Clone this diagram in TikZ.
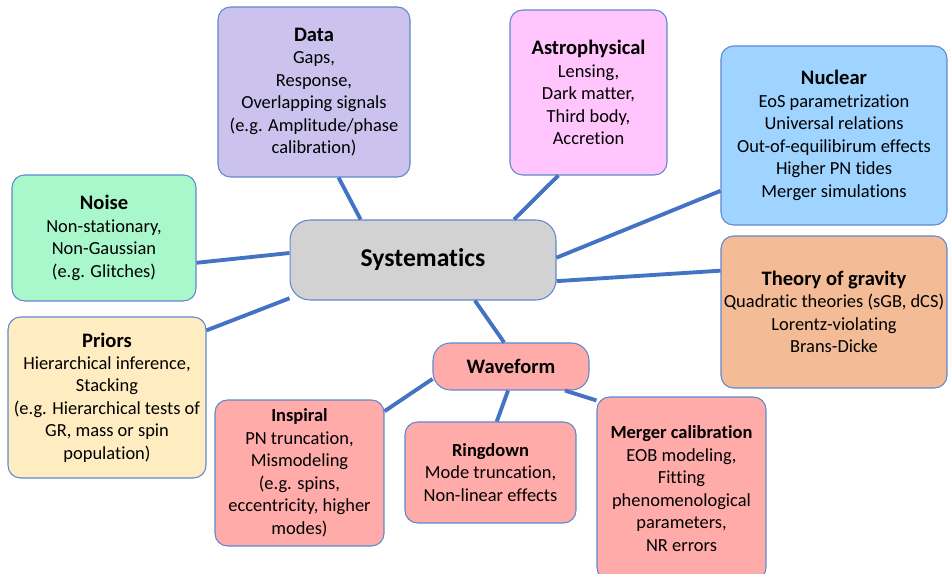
\documentclass[tikz,border=0pt]{standalone}
\usepackage{fontspec}
\setmainfont{Carlito}[Ligatures=NoCommon]
\usetikzlibrary{shapes}

\definecolor{linkblue}{HTML}{4472C4}
\definecolor{datafill}{HTML}{CBC3EE}
\definecolor{astrofill}{HTML}{FFC5FC}
\definecolor{nuclearfill}{HTML}{9ED4FF}
\definecolor{noisefill}{HTML}{A9F8CC}
\definecolor{sysfill}{HTML}{D2D2D2}
\definecolor{gravfill}{HTML}{F3BC97}
\definecolor{priorfill}{HTML}{FFEDC1}
\definecolor{wavefill}{HTML}{FFABA9}

\newcommand{\ttl}[1]{{\fontsize{11.7}{14.5}\selectfont\bfseries #1}}
\newcommand{\subttl}[1]{{\fontsize{10.5}{13}\selectfont\bfseries #1}}

\tikzset{
  topic/.style={rectangle, rounded corners=0.25cm, draw=linkblue!85, line width=0.6pt,
    align=center, inner sep=0pt, font=\fontsize{10.5}{12.8}\selectfont},
  link/.style={draw=linkblue, line width=2.2pt},
}

\begin{document}
\begin{tikzpicture}[x=0.02cm, y=-0.02cm]
  \useasboundingbox (0,0) rectangle (948,574);

  % centre box
  \node[topic, fill=sysfill, rounded corners=0.4cm, minimum width=5.32cm, minimum height=1.6cm] (sys) at (423,260)
    {\fontsize{14.6}{17}\selectfont\bfseries Systematics};

  \node[topic, fill=datafill, minimum width=3.84cm, minimum height=3.4cm] (data) at (314,92)
    {\ttl{Data}\\Gaps,\\Response,\\Overlapping signals\\(e.g. Amplitude/phase\\calibration)};
  \node[topic, fill=astrofill, minimum width=3.14cm, minimum height=3.3cm] (astro) at (588.5,92.5)
    {\ttl{Astrophysical}\\Lensing,\\Dark matter,\\Third body,\\Accretion};
  \node[topic, fill=nuclearfill, minimum width=4.52cm, minimum height=3.58cm] (nuclear) at (834,135.5)
    {\ttl{Nuclear}\\EoS parametrization\\Universal relations\\Out-of-equilibirum effects\\Higher PN tides\\Merger simulations};
  \node[topic, fill=gravfill, minimum width=4.52cm, minimum height=3.04cm] (gravity) at (834,312)
    {\ttl{Theory of gravity}\\Quadratic theories (sGB, dCS)\\Lorentz-violating\\Brans-Dicke};
  \node[topic, fill=noisefill, minimum width=3.68cm, minimum height=2.52cm] (noise) at (104,238)
    {\ttl{Noise}\\Non-stationary,\\Non-Gaussian\\(e.g. Glitches)};
  \node[topic, fill=priorfill, minimum width=3.96cm, minimum height=3.22cm] (priors) at (107,397.5)
    {\ttl{Priors}\\Hierarchical inference,\\Stacking\\(e.g. Hierarchical tests of\\GR, mass or spin\\population)};

  % waveform branch
  \node[topic, fill=wavefill, rounded corners=0.35cm, minimum width=3.12cm, minimum height=0.94cm] (wave) at (511,366.5)
    {\ttl{Waveform}};
  \node[topic, fill=wavefill, minimum width=3.38cm, minimum height=2.92cm] (inspiral) at (299.5,473)
    {\subttl{Inspiral}\\PN truncation,\\Mismodeling\\(e.g. spins,\\eccentricity, higher\\modes)};
  \node[topic, fill=wavefill, minimum width=3.42cm, minimum height=2.02cm] (ringdown) at (490.5,472.5)
    {\subttl{Ringdown}\\Mode truncation,\\Non-linear effects};
  \node[topic, fill=wavefill, minimum width=3.38cm, minimum height=3.66cm] (merger) at (681.5,488.5)
    {\subttl{Merger calibration}\\EOB modeling,\\Fitting\\phenomenological\\parameters,\\NR errors};

  \draw[link] (data.-74) -- (sys.147);
  \draw[link] (astro.-110) -- (sys.24.5);
  \draw[link] (nuclear.-154.4) -- (sys.1.3);
  \draw[link] (gravity.160.5) -- (sys.-9.9);
  \draw[link] (noise.-15.2) -- (sys.177.8);
  \draw[link] (priors.34.9) -- (sys.-164.7);
  \draw[link] (sys.-38) -- (wave.106.6);
  \draw[link] (wave.-171.4) -- (inspiral.36);
  \draw[link] (wave.-97.3) -- (ringdown.83.7);
  \draw[link] (wave.-24.7) -- (merger.134.3);
\end{tikzpicture}
\end{document}
